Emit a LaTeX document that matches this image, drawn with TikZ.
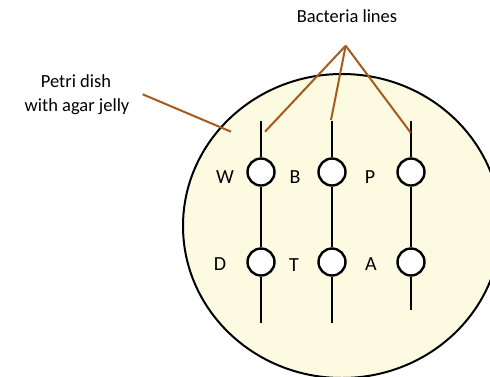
\documentclass[tikz,border=0pt]{standalone}
\usepackage{fontspec}
\setmainfont{Carlito}
\definecolor{agar}{RGB}{253,250,226}
\definecolor{pointer}{RGB}{165,90,30}
\tikzset{
  dish/.style={draw=black, line width=2pt, fill=agar},
  colony/.style={circle, draw=black, fill=white, line width=2.4pt, minimum size=27pt, inner sep=0pt},
  stem/.style={draw=black, line width=2.7pt},
  leader/.style={draw=pointer, line width=2pt},
  caption/.style={font=\fontsize{18.5}{22}\selectfont, anchor=base, inner sep=0pt, text=black},
  letter/.style={font=\fontsize{20}{24}\selectfont, anchor=base, inner sep=0pt, text=black}
}
\begin{document}
\begin{tikzpicture}[x=1pt,y=-1pt]
\clip (0,0) rectangle (490,376);
\fill[white] (0,0) rectangle (490,376);
\draw[dish] (342,226) ellipse [x radius=159, y radius=152];

% texts
\node[caption] (bact) at (347,22) {Bacteria lines};
\node[caption] (petri1) at (76,87) {Petri dish};
\node[caption] (petri2) at (77,111) {with agar jelly};

% colonies
\node[colony] (w) at (261,172) {};
\node[colony] (b) at (332,172) {};
\node[colony] (p) at (411,172) {};
\node[colony] (d) at (261,262) {};
\node[colony] (t) at (332,262) {};
\node[colony] (a) at (411,262) {};

% stems
\coordinate (top1) at (261,121);
\coordinate (top2) at (332,121);
\coordinate (top3) at (411,121);
\coordinate (bot1) at (261,323);
\coordinate (bot2) at (332,323);
\coordinate (bot3) at (411,310);
\draw[stem] (top1) -- (w); \draw[stem] (w) -- (d); \draw[stem] (d) -- (bot1);
\draw[stem] (top2) -- (b); \draw[stem] (b) -- (t); \draw[stem] (t) -- (bot2);
\draw[stem] (top3) -- (p); \draw[stem] (p) -- (a); \draw[stem] (a) -- (bot3);

% labels
\node[letter] (lw) at (225,183.3) {W};
\node[letter] (lb) at (295,183.3) {B};
\node[letter] (lp) at (370,183.3) {P};
\node[letter] (ld) at (220,270) {D};
\node[letter] (lt) at (294,271.5) {T};
\node[letter] (la) at (371,270) {A};

% leaders
\coordinate (apex) at (345.7,45.7);
\coordinate (end1) at (265,131.7);
\coordinate (end2) at (331,120);
\coordinate (end3) at (410.7,132.7);
\draw[leader] (apex) -- (end1);
\draw[leader] (apex) -- (end2);
\draw[leader] (apex) -- (end3);
\coordinate (pstart) at (142.7,94.3);
\coordinate (pend) at (231,131.7);
\draw[leader] (pstart) -- (pend);
\end{tikzpicture}
\end{document}
